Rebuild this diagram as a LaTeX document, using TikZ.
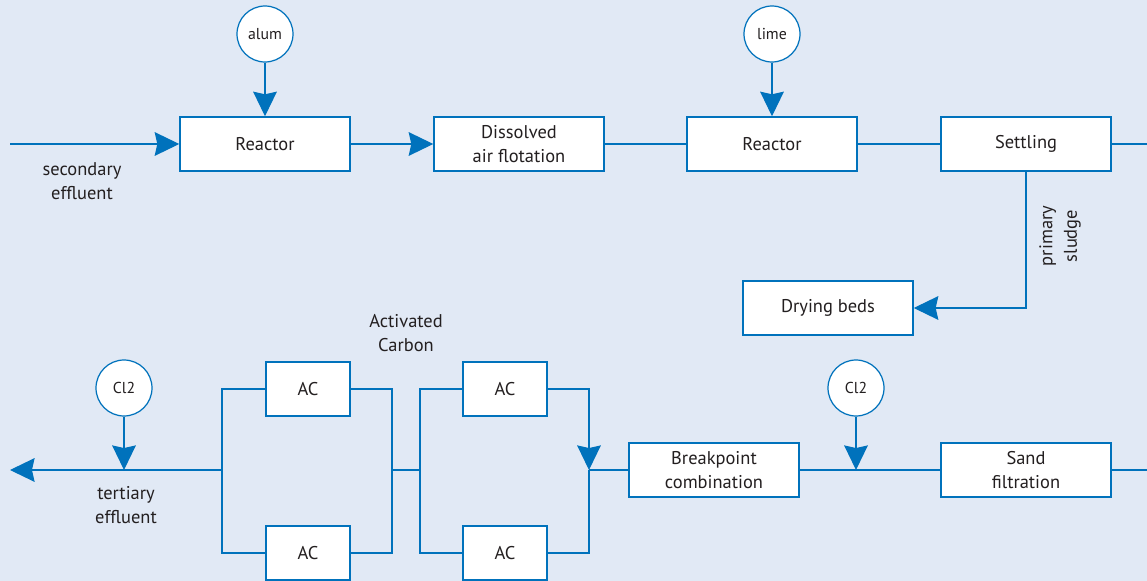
\documentclass[tikz,border=0pt]{standalone}
\usepackage{fontspec}
\setmainfont{PT Sans}
\usepackage{tikz}
\usetikzlibrary{arrows.meta}

\definecolor{flowblue}{HTML}{0072BC}
\definecolor{bgblue}{HTML}{E1E9F5}
\definecolor{txtgray}{HTML}{231F20}

\tikzset{
    proc/.style={draw=flowblue, line width=0.85pt, fill=white, minimum width=3.4cm, minimum height=1.08cm, align=center, inner sep=1pt},
    acbox/.style={proc, minimum width=1.68cm},
    chem/.style={draw=flowblue, line width=0.7pt, fill=white, circle, minimum size=1.12cm, inner sep=0pt, font=\fontsize{9}{11}\selectfont},
    flow/.style={draw=flowblue, line width=0.7pt},
    arr/.style={flow, -{Stealth[length=14pt, width=13.5pt, inset=1.5pt]}},
    lbl/.style={align=center, inner sep=0pt},
}

\begin{document}
\begin{tikzpicture}[x=0.02cm, y=-0.02cm, font=\fontsize{10.5}{14}\selectfont, text=txtgray]
    \useasboundingbox (0, 0) rectangle (1147, 581);
    \fill[bgblue] (0, 0) rectangle (1147, 581);

    % top line
    \node[proc] (reac1) at (265, 144) {Reactor};
    \node[proc] (daf)   at (519, 144) {Dissolved\\air flotation};
    \node[proc] (reac2) at (772, 144) {Reactor};
    \node[proc] (settle) at (1026, 144) {Settling};
    \node[proc] (dry)   at (828, 308) {Drying beds};
    \node[chem] (alum) at (265, 34) {alum};
    \node[chem] (lime) at (772, 34) {lime};
    \coordinate (inflow) at (10, 144);
    \coordinate (outtop) at (1147, 144);

    \draw[arr] (inflow) -- (reac1);
    \draw[arr] (reac1) -- (daf);
    \draw[flow] (daf) -- (reac2);
    \draw[flow] (reac2) -- (settle);
    \draw[flow] (settle) -- (outtop);
    \draw[arr] (alum) -- (reac1);
    \draw[arr] (lime) -- (reac2);
    \draw[arr] (settle.south) |- (dry.east);

    \node[lbl] (seclbl) at (82, 181) {secondary\\effluent};
    \node[lbl, rotate=90] (sludgelbl) at (1060, 236) {primary\\sludge};

    % bottom line
    \node[proc] (sand) at (1026, 470) {Sand\\filtration};
    \node[proc] (bp)   at (714, 470) {Breakpoint\\combination};
    \node[acbox] (ac1) at (308, 389) {AC};
    \node[acbox] (ac2) at (308, 553) {AC};
    \node[acbox] (ac3) at (505, 389) {AC};
    \node[acbox] (ac4) at (505, 553) {AC};
    \node[chem] (cltwoa) at (124, 388) {Cl2};
    \node[chem] (cltwob) at (856, 388) {Cl2};
    \coordinate (inbot) at (1147, 470);
    \coordinate (jmerge) at (589, 470);
    \coordinate (jsplit) at (420, 470);
    \coordinate (jmid) at (392, 470);
    \coordinate (jout) at (222, 470);
    \coordinate (outflow) at (10, 470);

    \draw[flow] (inbot) -- (sand);
    \draw[flow] (sand) -- (bp);
    \draw[arr] (cltwob) -- (cltwob |- bp);
    \draw[flow] (bp.west) -- (jmerge);
    \draw[arr] (ac3.east) -| (jmerge);
    \draw[flow] (ac4.east) -| (jmerge);
    \draw[flow] (ac3.west) -| (jsplit) |- (ac4.west);
    \draw[flow] (ac1.east) -| (jmid) |- (ac2.east);
    \draw[flow] (jmid) -- (jsplit);
    \draw[flow] (ac1.west) -| (jout) |- (ac2.west);
    \draw[arr] (jout) -- (outflow);
    \draw[arr] (cltwoa) -- (cltwoa |- jout);

    \node[lbl] (terlbl) at (126, 505) {tertiary\\effluent};
    \node[lbl] (aclbl) at (406, 333) {Activated\\Carbon};
\end{tikzpicture}
\end{document}
